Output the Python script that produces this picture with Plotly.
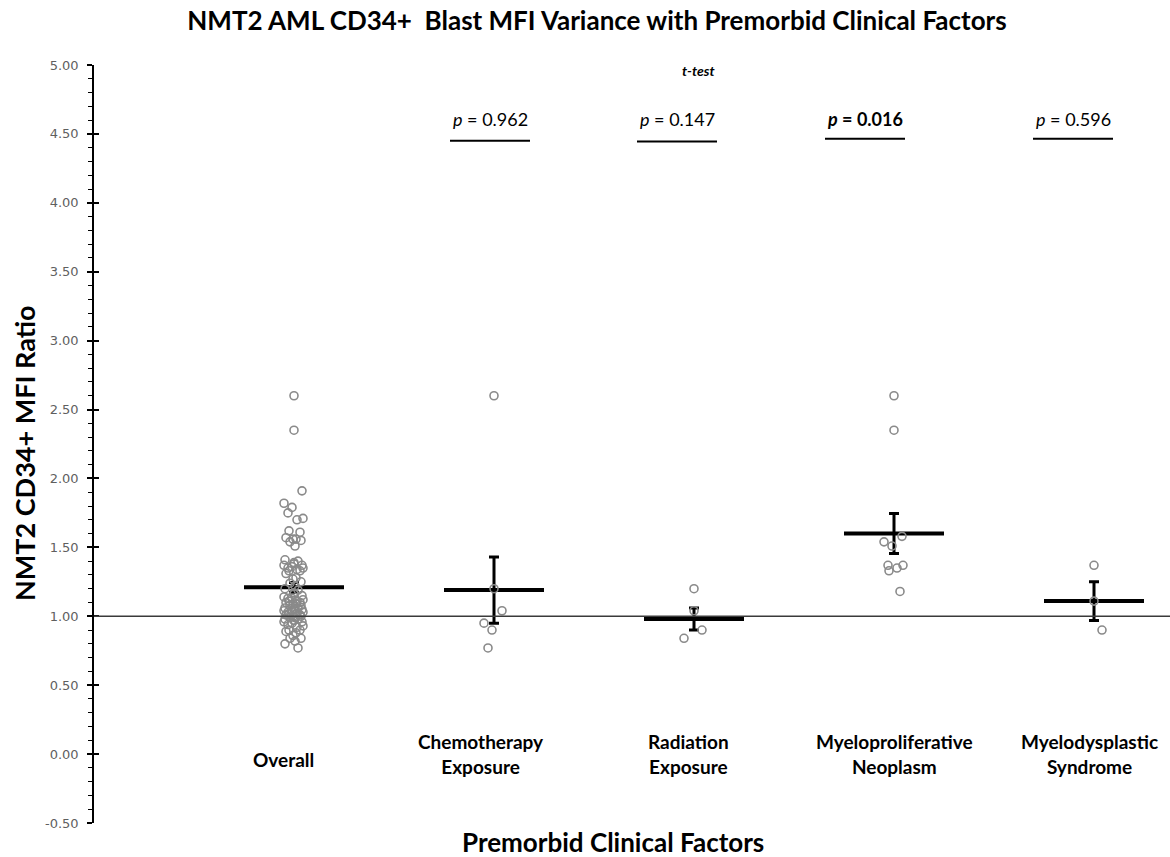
import plotly.graph_objects as go

# ---- data ---------------------------------------------------------------
categories = ["Overall", "Chemotherapy<br>Exposure", "Radiation<br>Exposure",
              "Myeloproliferative<br>Neoplasm", "Myelodysplastic<br>Syndrome"]

overall = [2.60, 2.35, 1.91, 1.82, 1.79, 1.75, 1.71, 1.70, 1.62, 1.61, 1.57, 1.56,
           1.56, 1.55, 1.54, 1.51, 1.41, 1.40, 1.39, 1.38, 1.37, 1.37, 1.36, 1.35,
           1.35, 1.34, 1.33, 1.33, 1.31, 1.28, 1.27, 1.25, 1.24, 1.22, 1.20, 1.19,
           1.17, 1.16, 1.15, 1.14, 1.13, 1.13, 1.12, 1.11, 1.11, 1.10, 1.10, 1.09,
           1.09, 1.08, 1.08, 1.07, 1.06, 1.06, 1.05, 1.05, 1.05, 1.04, 1.04, 1.03,
           1.03, 1.02, 1.02, 1.01, 1.01, 1.00, 1.00, 1.00, 0.99, 0.99, 0.98, 0.98,
           0.97, 0.97, 0.96, 0.96, 0.95, 0.94, 0.93, 0.92, 0.90, 0.90, 0.89, 0.88,
           0.86, 0.84, 0.84, 0.82, 0.80, 0.77]
chemotherapy = [2.60, 1.20, 1.04, 0.95, 0.90, 0.77]
radiation = [1.20, 1.04, 0.90, 0.84]
myeloproliferative = [2.60, 2.35, 1.58, 1.54, 1.51, 1.37, 1.37, 1.35, 1.33, 1.18]
myelodysplastic = [1.37, 1.11, 0.90]

group_means = [1.21, 1.19, 0.98, 1.60, 1.11]
group_sems = [0.035, 0.24, 0.08, 0.145, 0.14]

p_values = ["0.962", "0.147", "0.016", "0.596"]
p_significant = [False, False, True, False]

y_ticks = [-0.5, 0.0, 0.5, 1.0, 1.5, 2.0, 2.5, 3.0, 3.5, 4.0, 4.5, 5.0]

groups = [overall, chemotherapy, radiation, myeloproliferative, myelodysplastic]

# ---- layout constants -----------------------------------------------------
W, H = 1170, 857
M_L, M_R, M_T, M_B = 94, 0, 65, 34
X_RANGE = [0, 5.38]
Y_RANGE = [-0.5, 5.0]
px_per_x = (W - M_L - M_R) / (X_RANGE[1] - X_RANGE[0])

cat_x = [1, 2, 3, 4, 5]
label_x = [0.945, 1.935, 2.97, 4.0, 4.975]
label_y = [-0.036, 0.0, 0.0, 0.0, 0.0]
p_x = [1.98, 2.915, 3.855, 4.895]
p_text_y = 4.61
p_line_y = [4.45, 4.445, 4.465, 4.465]
p_line_half = 0.2
mean_half = 0.25

# horizontal scatter pattern (pixels) cycled through each column's points
JITTER_PX = [0, 0, 8, -10, -2, -6, 9, 3, -5, 6, -8, 2, -1, 7, -4, 1, -9, 4]


def jitter(n):
    return [JITTER_PX[i % len(JITTER_PX)] / px_per_x for i in range(n)]


fig = go.Figure()

# mean lines
mx, my = [], []
for cx, m in zip(cat_x, group_means):
    mx += [cx - mean_half, cx + mean_half, None]
    my += [m, m, None]
fig.add_trace(go.Scatter(x=mx, y=my, mode="lines",
                         line=dict(color="black", width=4), hoverinfo="skip",
                         showlegend=False))

# standard error bars
fig.add_trace(go.Scatter(
    x=cat_x, y=group_means, mode="markers",
    marker=dict(size=1, color="rgba(0,0,0,0)"),
    error_y=dict(type="data", array=group_sems, visible=True,
                 color="black", thickness=3, width=5),
    showlegend=False, hoverinfo="skip"))

# individual observations
for cx, vals in zip(cat_x, groups):
    offs = jitter(len(vals))
    fig.add_trace(go.Scatter(
        x=[cx + o for o in offs], y=vals, mode="markers",
        marker=dict(symbol="circle-open", size=8, color="#8a8a8a",
                    line=dict(width=1.6, color="#8a8a8a")),
        showlegend=False))

shapes = [
    # reference line at ratio 1.0
    dict(type="line", xref="x", yref="y", x0=X_RANGE[0], x1=X_RANGE[1], y0=1, y1=1,
         line=dict(color="#3a3a3a", width=1.5)),
]
for px_, py_ in zip(p_x, p_line_y):
    shapes.append(dict(type="line", xref="x", yref="y",
                       x0=px_ - p_line_half, x1=px_ + p_line_half, y0=py_, y1=py_,
                       line=dict(color="black", width=2)))

LABEL_FONT = "Lato, 'Open Sans', sans-serif"
annotations = []
for lx, ly, txt in zip(label_x, label_y, categories):
    annotations.append(dict(x=lx, y=ly, xref="x", yref="y", text=f"<b>{txt}</b>",
                            showarrow=False, xanchor="center", yanchor="middle",
                            font=dict(family=LABEL_FONT, size=19, color="black")))
for px_, pv, sig in zip(p_x, p_values, p_significant):
    t = f"<i>p</i> = {pv}"
    if sig:
        t = f"<b>{t}</b>"
    annotations.append(dict(x=px_, y=p_text_y, xref="x", yref="y", text=t,
                            showarrow=False, xanchor="center", yanchor="middle",
                            font=dict(family=LABEL_FONT, size=18, color="black")))
annotations.append(dict(x=3.02, y=4.957, xref="x", yref="y", text="<b><i>t-test</i></b>",
                        showarrow=False, xanchor="center", yanchor="middle",
                        font=dict(family=LABEL_FONT, size=14, color="black")))
annotations.append(dict(x=(613 - M_L) / (W - M_L - M_R), y=(H - M_B - 842) / (H - M_T - M_B),
                        xref="paper", yref="paper", text="<b>Premorbid Clinical Factors</b>",
                        showarrow=False, xanchor="center", yanchor="middle",
                        font=dict(family=LABEL_FONT, size=26, color="black")))
annotations.append(dict(x=(24 - M_L) / (W - M_L - M_R), y=(H - M_B - 453) / (H - M_T - M_B),
                        xref="paper", yref="paper", text="<b>NMT2 CD34+ MFI Ratio</b>",
                        showarrow=False, xanchor="center", yanchor="middle", textangle=-90,
                        font=dict(family=LABEL_FONT, size=27, color="black")))

fig.update_layout(
    width=W, height=H,
    margin=dict(l=M_L, r=M_R, t=M_T, b=M_B),
    paper_bgcolor="white", plot_bgcolor="white",
    title=dict(text="<b>NMT2 AML CD34+  Blast MFI Variance with Premorbid Clinical Factors</b>",
               x=597 / W, y=1 - 21 / H, xanchor="center", yanchor="middle",
               font=dict(family=LABEL_FONT, size=26, color="black")),
    xaxis=dict(range=X_RANGE, visible=False, showgrid=False, zeroline=False),
    yaxis=dict(range=Y_RANGE, tickmode="array", tickvals=y_ticks,
               ticktext=[f"{v:.2f}" for v in y_ticks],
               showgrid=False, zeroline=False,
               showline=True, linecolor="black", linewidth=1.5,
               ticks="outside", ticklen=5, tickwidth=1.5, tickcolor="black",
               ticklabelstandoff=6,
               tickfont=dict(family="DejaVu Sans", size=13, color="#5f5f5f"),
               minor=dict(dtick=0.1, tick0=0, ticks="outside", ticklen=4, tickwidth=1.2,
                          tickcolor="black", showgrid=False)),
    yaxis2=dict(range=Y_RANGE, overlaying="y", side="left", tickmode="array",
                tickvals=y_ticks, showgrid=False, zeroline=False, showticklabels=False,
                ticks="inside", ticklen=5, tickwidth=1.5, tickcolor="black"),
    shapes=shapes,
    annotations=annotations,
    showlegend=False,
)
# empty trace so the overlaid axis with inward ticks is rendered
fig.add_trace(go.Scatter(x=[None], y=[None], yaxis="y2", showlegend=False))

fig.write_html("out.html")
